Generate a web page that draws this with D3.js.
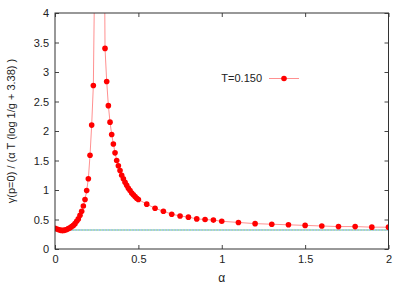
<!DOCTYPE html>
<html>
<head>
<meta charset="utf-8">
<script src="https://cdn.jsdelivr.net/npm/d3@7"></script>
<style>
  body { margin: 0; background: #fff; }
  svg text { font-family: "Liberation Sans", Arial, sans-serif; font-size: 11px; fill: #222; }
</style>
</head>
<body>
<svg id="chart" width="409" height="286"></svg>
<script>
// alpha values and gamma(p=0) ratio, T=0.150
var alphas = [0.00,0.01,0.02,0.03,0.04,0.05,0.06,0.07,0.08,0.09,
  0.10,0.11,0.12,0.13,0.14,0.15,0.16,0.17,0.18,0.19,
  0.20,0.21,0.22,0.23,0.24,0.25,0.26,0.27,0.28,0.29,
  0.30,0.31,0.32,0.33,0.34,0.35,0.36,0.37,0.38,0.39,
  0.40,0.41,0.42,0.43,0.44,0.45,0.46,0.47,0.48,0.49,
  0.50,0.55,0.60,0.65,0.70,0.75,0.80,0.85,0.90,0.95,
  1.0,1.1,1.2,1.3,1.4,1.5,1.6,1.7,1.8,1.9,2.0];
var gammas = [0.35,0.34,0.33,0.32,0.315,0.315,0.32,0.33,0.345,0.36,
  0.38,0.40,0.43,0.47,0.51,0.57,0.64,0.73,0.84,0.99,
  1.19,1.59,2.10,2.77,5.2,9.0,20.0,25.0,15.0,8.0,
  3.40,2.84,2.43,2.15,1.94,1.78,1.63,1.50,1.41,1.33,
  1.25,1.19,1.13,1.08,1.03,0.99,0.95,0.92,0.89,0.86,
  0.84,0.76,0.69,0.64,0.59,0.56,0.54,0.51,0.50,0.49,
  0.47,0.45,0.43,0.42,0.41,0.40,0.39,0.38,0.38,0.37,0.37];
var refLevel = 0.322;
var xTicks = [0, 0.5, 1, 1.5, 2];
var yTicks = [0, 0.5, 1, 1.5, 2, 2.5, 3, 3.5, 4];
var legendLabel = "T=0.150";

var data = alphas.map(function(a, i) { return {a: a, g: gammas[i]}; });

var svg = d3.select("#chart");
var pL = 55, pR = 388.5, pT = 13, pB = 249;
var x = d3.scaleLinear().domain([0, 2]).range([pL, pR]);
var y = d3.scaleLinear().domain([0, 4]).range([pB, pT]);

svg.append("clipPath").attr("id", "clip")
  .append("rect").attr("x", pL).attr("y", pT)
  .attr("width", pR - pL).attr("height", pB - pT);

// reference level (two dotted lines overlapping)
var plot = svg.append("g").attr("clip-path", "url(#clip)");
plot.append("line")
  .attr("x1", x(0)).attr("x2", x(2)).attr("y1", y(refLevel)).attr("y2", y(refLevel))
  .attr("stroke", "#5fbf5f").attr("stroke-width", 1.2).attr("stroke-dasharray", "1.5,1.5");
plot.append("line")
  .attr("x1", x(0) + 1.5).attr("x2", x(2)).attr("y1", y(refLevel)).attr("y2", y(refLevel))
  .attr("stroke", "#4a90d9").attr("stroke-width", 1.2).attr("stroke-dasharray", "1.5,1.5");

var line = d3.line().x(function(d) { return x(d.a); }).y(function(d) { return y(d.g); });
plot.append("path").datum(data)
  .attr("d", line).attr("fill", "none")
  .attr("stroke", "#ff9090").attr("stroke-width", 1);

plot.selectAll("circle.pt").data(data.filter(function(d) { return d.g <= 4.05; }))
  .enter().append("circle")
  .classed("pt", true)
  .attr("cx", function(d) { return x(d.a); })
  .attr("cy", function(d) { return y(d.g); })
  .attr("r", 2.8).attr("fill", "#ff0000");

// axes, gnuplot style: ticks inward, mirrored
var xAx = svg.append("g").attr("transform", "translate(0," + pB + ")")
  .call(d3.axisBottom(x).tickValues(xTicks).tickSizeInner(-4).tickSizeOuter(0).tickPadding(6)
    .tickFormat(d3.format("")));
var xAxTop = svg.append("g").attr("transform", "translate(0," + pT + ")")
  .call(d3.axisTop(x).tickValues(xTicks).tickSizeInner(-4).tickSizeOuter(0).tickFormat(""));
var yAx = svg.append("g").attr("transform", "translate(" + pL + ",0)")
  .call(d3.axisLeft(y).tickValues(yTicks).tickSizeInner(-4).tickSizeOuter(0).tickPadding(6)
    .tickFormat(d3.format("")));
var yAxRight = svg.append("g").attr("transform", "translate(" + pR + ",0)")
  .call(d3.axisRight(y).tickValues(yTicks).tickSizeInner(-4).tickSizeOuter(0).tickFormat(""));

[xAx, xAxTop, yAx, yAxRight].forEach(function(g) {
  g.select(".domain").remove();
  g.selectAll("line").attr("stroke", "#444");
  g.selectAll("text").style("font-family", "Liberation Sans, Arial, sans-serif")
    .style("font-size", "11px").attr("fill", "#222");
});

svg.append("rect").attr("x", pL).attr("y", pT)
  .attr("width", pR - pL).attr("height", pB - pT)
  .attr("fill", "none").attr("stroke", "#333").attr("stroke-width", 1);

// axis labels
svg.append("text").attr("x", (pL + pR) / 2).attr("y", 282)
  .attr("text-anchor", "middle").style("font-size", "12px").text("\u03b1");
svg.append("text")
  .attr("transform", "translate(15," + ((pT + pB) / 2) + ") rotate(-90)")
  .attr("text-anchor", "middle").text("\u03b3(p=0) / (\u03b1 T (log 1/g + 3.38) )");

// legend
var lg = svg.append("g");
lg.append("text").attr("x", 262).attr("y", 82).attr("text-anchor", "end").text(legendLabel);
lg.append("line").attr("x1", 269).attr("x2", 299).attr("y1", 78.5).attr("y2", 78.5)
  .attr("stroke", "#ff9090").attr("stroke-width", 1);
lg.append("circle").attr("cx", 284).attr("cy", 78.5).attr("r", 2.8).attr("fill", "#ff0000");
</script>
</body>
</html>
